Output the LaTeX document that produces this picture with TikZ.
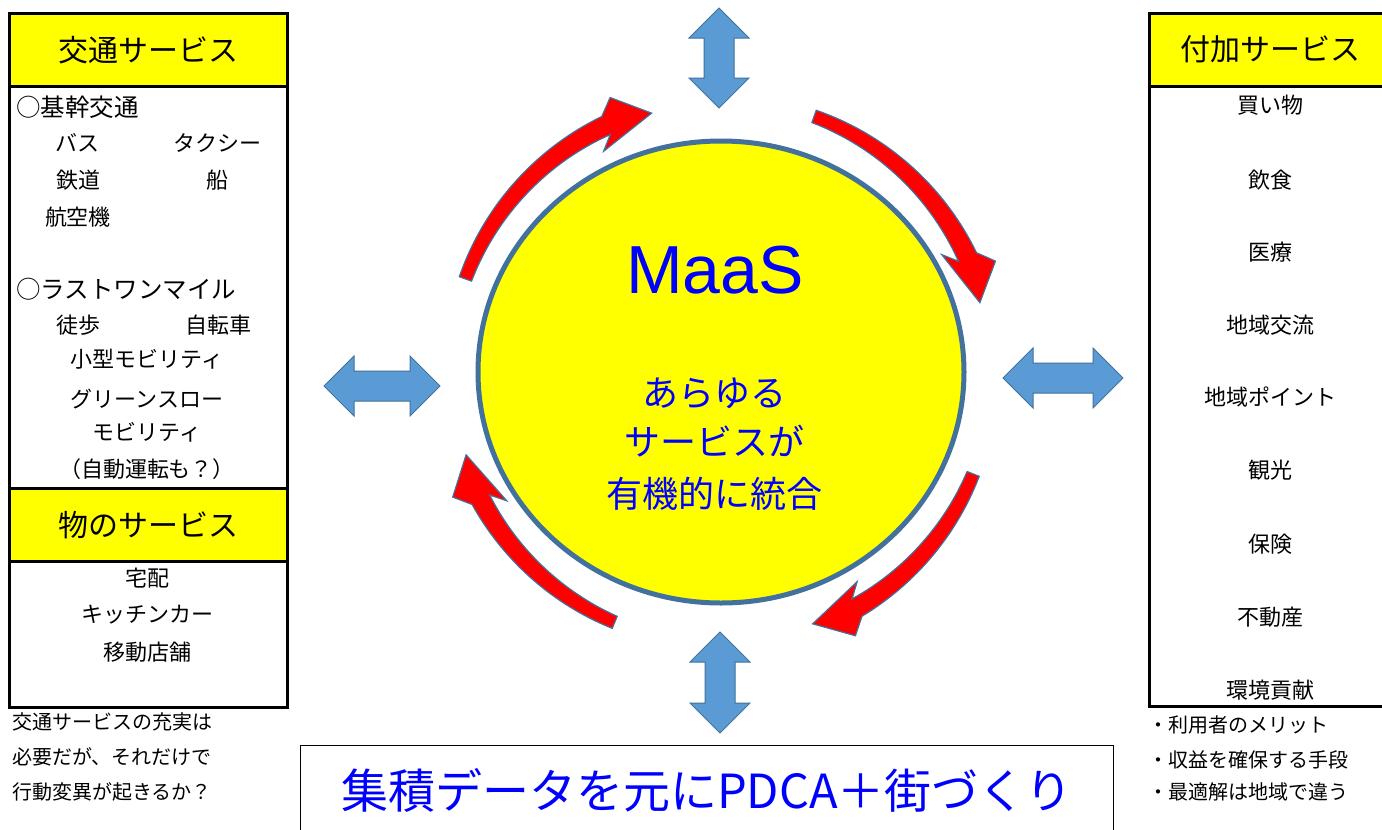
\documentclass[tikz,border=0pt]{standalone}
\usepackage{fontspec}
\setmainfont{Noto Sans CJK JP}
\newfontfamily\arialf{Liberation Sans}
\usetikzlibrary{shapes.geometric,calc}
\definecolor{ppblue}{HTML}{41719C}
\definecolor{arrfill}{HTML}{5B9BD5}
\definecolor{txtblue}{HTML}{0000FF}
\definecolor{ylw}{HTML}{FFFF00}
\newcommand\fs[1]{\fontsize{#1}{#1}\selectfont}
\newcommand\dblarrow[2]{%
  \path ($(#1)!30pt!(#2)$) coordinate (p1) ($(#2)!30pt!(#1)$) coordinate (p2);
  \filldraw[barrow] (#1) -- ($(p1)!30pt!90:(#2)$) -- ($(p1)!15pt!90:(#2)$)
    -- ($(p2)!15pt!-90:(#1)$) -- ($(p2)!30pt!-90:(#1)$) -- (#2)
    -- ($(p2)!30pt!90:(#1)$) -- ($(p2)!15pt!90:(#1)$)
    -- ($(p1)!15pt!-90:(#2)$) -- ($(p1)!30pt!-90:(#2)$) -- cycle;}
% #1 tail angle, #2 head base angle, #3 tip angle (math angles, centre of MaaS circle)
\newcommand\redarrow[3]{%
  \filldraw[redarr]
    plot[domain=0:1,samples=30] ({721+(272+(13+7*\x)/2)*cos((#1)+((#2)-(#1))*\x)},
                                 {372-(272+(13+7*\x)/2)*sin((#1)+((#2)-(#1))*\x)})
    -- ({721+296*cos((#2)-3)},{372-296*sin((#2)-3)})
    -- ({721+268*cos(#3)},{372-268*sin(#3)})
    -- ({721+250*cos((#2)+3)},{372-250*sin((#2)+3)})
    -- plot[domain=0:1,samples=30] ({721+(272-(20-7*\x)/2)*cos((#2)+((#1)-(#2))*\x)},
                                    {372-(272-(20-7*\x)/2)*sin((#2)+((#1)-(#2))*\x)})
    -- cycle;}
\begin{document}
\begin{tikzpicture}[x=1pt,y=-1pt,
  panel/.style={draw=black, line width=2.5pt, inner sep=0pt},
  hdr/.style={panel, fill=ylw, font=\fs{30}},
  it/.style={inner sep=0pt, font=\fs{22}},
  itl/.style={inner sep=0pt, font=\fs{24.5}, anchor=west},
  note/.style={inner sep=0pt, font=\fs{20}, anchor=west},
  ctext/.style={inner sep=0pt, text=txtblue, font=\fs{36}},
  barrow/.style={fill=arrfill, draw=ppblue, line width=1pt, line join=miter},
  redarr/.style={fill=red, draw=ppblue, line width=1.2pt, line join=miter},
]
\path[clip] (0,0) rectangle (1382,830);
\fill[white] (0,0) rectangle (1382,830);

% ---------- left panel
\node[panel, minimum width=278pt, minimum height=694pt, anchor=north west] (lpanel) at (8,12) {};
\node[hdr, minimum width=278pt, minimum height=73pt, anchor=north west] (h1) at (8,12) {交通サービス};
\node[itl] (k1) at (16,107) {○基幹交通};
\node[it] (k2) at (77,143) {バス};
\node[it] (k3) at (217,143) {タクシー};
\node[it] (k4) at (78,180) {鉄道};
\node[it] (k5) at (217,180) {船};
\node[it] (k6) at (78,217) {航空機};
\node[itl] (l1) at (16,289) {○ラストワンマイル};
\node[it] (l2) at (78,325) {徒歩};
\node[it] (l3) at (218,325) {自転車};
\node[it] (l4) at (147,359) {小型モビリティ};
\node[it] (l5) at (147,399) {グリーンスロー};
\node[it] (l6) at (147,432) {モビリティ};
\node[it] (l7) at (147,469) {（自動運転も？）};
\node[hdr, minimum width=278pt, minimum height=73pt, anchor=north west] (h2) at (8,487) {物のサービス};
\node[it] (m1) at (147,578) {宅配};
\node[it] (m2) at (147,615) {キッチンカー};
\node[it] (m3) at (147,652) {移動店舗};
\node[note] (n1) at (12,722) {交通サービスの充実は};
\node[note] (n2) at (12,757) {必要だが、それだけで};
\node[note] (n3) at (12,792) {行動変異が起きるか？};

% ---------- right panel
\node[panel, minimum width=260pt, minimum height=693pt, anchor=north west] (rpanel) at (1148,12) {};
\node[hdr, minimum width=260pt, minimum height=73pt, anchor=north west] (h3) at (1148,12) {};
\node[inner sep=0pt, font=\fs{30}] (h3t) at (1270,49) {付加サービス};
\node[it] (r1) at (1270,105) {買い物};
\node[it] (r2) at (1270,180) {飲食};
\node[it] (r3) at (1270,252) {医療};
\node[it] (r4) at (1270,325) {地域交流};
\node[it] (r5) at (1270,397) {地域ポイント};
\node[it] (r6) at (1270,470) {観光};
\node[it] (r7) at (1270,544) {保険};
\node[it] (r8) at (1270,617) {不動産};
\node[it] (r9) at (1270,690) {環境貢献};
\node[note] (q1) at (1148,725) {・利用者のメリット};
\node[note] (q2) at (1148,760) {・収益を確保する手段};
\node[note] (q3) at (1148,792) {・最適解は地域で違う};

% ---------- centre
\node[ellipse, draw=ppblue, line width=5pt, fill=ylw, minimum width=486pt, minimum height=462pt, inner sep=0pt] (maas) at (721,372) {};
\node[inner sep=0pt, text=txtblue, font=\arialf\fs{68}] (maast) at (715,270) {MaaS};
\node[ctext] (c1) at (714,393) {あらゆる};
\node[ctext] (c2) at (714,441) {サービスが};
\node[ctext] (c3) at (714,494) {有機的に統合};

\redarrow{160}{115}{105}
\redarrow{70}{25}{15}
\redarrow{-22}{-60}{-70}
\redarrow{247}{208}{198}

% ---------- blue double arrows
\coordinate (tA) at (719,8);    \coordinate (tB) at (719,108);
\coordinate (bA) at (720,632);  \coordinate (bB) at (720,733);
\coordinate (lA) at (324,386);  \coordinate (lB) at (440,386);
\coordinate (rA) at (1003,378); \coordinate (rB) at (1123,378);
\dblarrow{tA}{tB}
\dblarrow{bA}{bB}
\dblarrow{lA}{lB}
\dblarrow{rA}{rB}

% ---------- bottom box
\node[draw=black, line width=1.2pt, minimum width=813pt, minimum height=120pt, anchor=north west] (pbox) at (300,745) {};
\node[inner sep=0pt, text=txtblue, font=\fs{47}] (ptext) at (707,790) {集積データを元にPDCA＋街づくり};
\end{tikzpicture}
\end{document}
